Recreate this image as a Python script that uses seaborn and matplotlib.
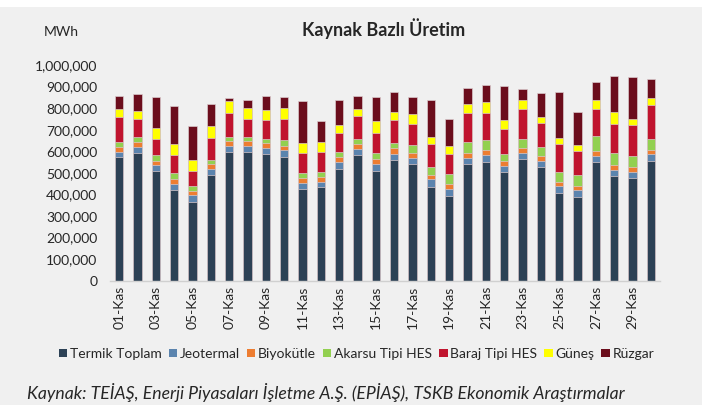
import numpy as np
import pandas as pd
import seaborn as sns
import matplotlib.pyplot as plt
from matplotlib.patches import Patch, Rectangle

# günler ve kaynak bazlı üretim (bin MWh)
days = [f"{d:02d}-Kas" for d in range(1, 31)]
termik = [571, 593, 508, 421, 366, 491, 598, 598, 585, 575,
          426, 434, 519, 581, 510, 561, 541, 435, 394, 541,
          550, 503, 565, 528, 408, 389, 548, 483, 476, 556]
jeotermal = [27, 28, 28, 29, 31, 25, 28, 26, 31, 32,
             28, 25, 32, 29, 31, 28, 28, 34, 31, 29,
             34, 29, 26, 28, 31, 29, 32, 28, 29, 30]
biyokutle = [23, 23, 20, 22, 20, 26, 22, 23, 23, 19,
             20, 23, 22, 23, 25, 26, 23, 22, 22, 22,
             23, 23, 25, 23, 20, 20, 22, 25, 23, 22]
akarsu = [23, 20, 26, 25, 22, 16, 20, 17, 17, 26,
          25, 22, 25, 25, 28, 23, 39, 34, 45, 53,
          45, 34, 40, 40, 45, 53, 70, 54, 50, 50]
baraj = [116, 84, 74, 85, 70, 102, 108, 84, 91, 96,
         91, 94, 87, 104, 91, 105, 96, 110, 97, 131,
         124, 115, 141, 110, 131, 111, 124, 136, 145, 155]
gunes = [36, 37, 50, 53, 50, 59, 59, 51, 45, 53,
         50, 46, 37, 32, 53, 37, 45, 32, 34, 42,
         53, 42, 40, 29, 25, 25, 42, 54, 28, 34]
ruzgar = [62, 79, 144, 173, 156, 99, 12, 37, 65, 49,
          193, 94, 114, 63, 116, 97, 79, 173, 128, 74,
          79, 156, 54, 111, 215, 153, 85, 169, 193, 88]

series = ["Termik Toplam", "Jeotermal", "Biyokütle", "Akarsu Tipi HES",
          "Baraj Tipi HES", "Güneş", "Rüzgar"]
colors = ["#2C4155", "#5B84AE", "#ED7D31", "#92D050", "#C0142E", "#FFFF00", "#6B0D1C"]

df = pd.DataFrame({"gun": days})
for name, vals in zip(series, [termik, jeotermal, biyokutle, akarsu, baraj, gunes, ruzgar]):
    df[name] = np.array(vals) * 1000

sns.set_theme(style="white")
plt.rcParams["font.family"] = ["Lato", "DejaVu Sans"]

bg = "#F0F0F0"
fig = plt.figure(figsize=(7.02, 4.05), dpi=100, facecolor=bg)
fig.patches.append(Rectangle((0, 0.982), 1, 0.02, transform=fig.transFigure,
                             facecolor="white", edgecolor="none", zorder=0))
ax = fig.add_axes([0.1567, 0.3074, 0.7835, 0.532])
ax.set_facecolor(bg)

# kümülatif toplamları üstten alta doğru çiz (yığılmış görünüm)
cum = df[series].cumsum(axis=1)
for name, col in reversed(list(zip(series, colors))):
    sns.barplot(x=df["gun"], y=cum[name], color=col, width=0.44, ax=ax,
                edgecolor="#d9c9cc", linewidth=0.5, saturation=1)

ax.set_ylim(0, 1_000_000)
ax.set_xlim(-0.5, 29.5)
ax.set_yticks(np.arange(0, 1_000_001, 100_000))
ax.set_yticklabels([f"{v:,}" for v in range(0, 1_000_001, 100_000)], fontsize=10)
ax.set_xticks(range(0, 30, 2))
ax.set_xticklabels(days[::2], rotation=90, fontsize=10)
ax.tick_params(axis="x", length=0, pad=4)
ax.tick_params(axis="y", length=0, pad=9)
ax.set_xlabel("")
ax.set_ylabel("")
for s in ["top", "right", "left"]:
    ax.spines[s].set_visible(False)
ax.spines["bottom"].set_color("#d0d0d0")
ax.spines["bottom"].set_linewidth(1)

fig.text(0.547, 0.93, "Kaynak Bazlı Üretim", ha="center", va="center",
         fontsize=13, fontweight="bold")
fig.text(0.087, 0.92, "MWh", ha="center", va="center", fontsize=10)

handles = [Patch(facecolor=c, edgecolor="none") for c in colors]
fig.legend(handles, series, loc="center", bbox_to_anchor=(0.508, 0.126),
           ncol=7, frameon=False, fontsize=10, handlelength=0.6, handleheight=0.6,
           handletextpad=0.2, columnspacing=0.5)

fig.text(0.038, 0.03, "Kaynak: TEİAŞ, Enerji Piyasaları İşletme A.Ş. (EPİAŞ), TSKB Ekonomik Araştırmalar",
         ha="left", va="center", fontsize=12.7, style="italic")

fig.savefig("out.png", dpi=100, facecolor=bg)
